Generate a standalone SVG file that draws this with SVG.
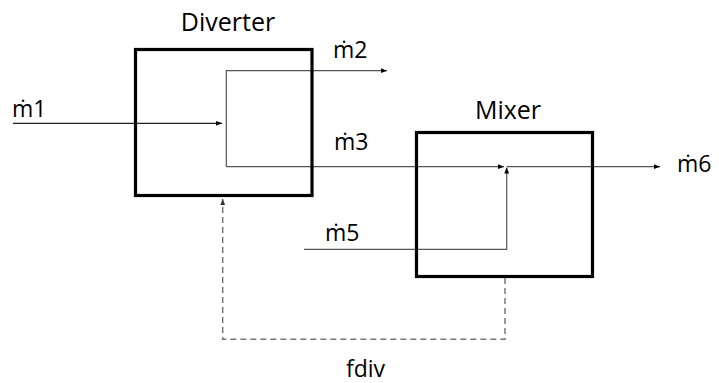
<svg xmlns="http://www.w3.org/2000/svg" width="719" height="383" viewBox="0 0 719 383">
<style>
.box{fill:none;stroke:#000;stroke-width:3.2}
.lbl{font-family:"Open Sans","Noto Sans",sans-serif;font-size:23px;fill:#000}
.ttl{font-family:"Open Sans","Noto Sans",sans-serif;font-size:25px;fill:#000}
.ln{fill:none;stroke:#555;stroke-width:1.2}
.dash{fill:none;stroke:#777;stroke-width:1.5;stroke-dasharray:6 4}
</style>
<defs>
<marker id="ah" viewBox="0 0 10 10" refX="10" refY="5" markerWidth="6" markerHeight="6" markerUnits="userSpaceOnUse" orient="auto"><path d="M0,1 L10,5 L0,9 z" fill="#000"/></marker>
<marker id="ahg" viewBox="0 0 10 10" refX="10" refY="5" markerWidth="6" markerHeight="6" markerUnits="userSpaceOnUse" orient="auto"><path d="M0,1 L10,5 L0,9 z" fill="#333"/></marker>
</defs>
<g id="connectors">
<path class="ln" style="stroke:#222" d="M13,123.3 H222" marker-end="url(#ah)"/>
<path class="ln" d="M226.3,166.7 V70.7 H387" marker-end="url(#ah)"/>
<path class="ln" d="M226.3,166.7 H504" marker-end="url(#ah)"/>
<path class="ln" d="M304,249.3 H506.7 V167.5" marker-end="url(#ah)"/>
<path class="ln" d="M506.7,166.7 H660" marker-end="url(#ah)"/>
<path class="dash" d="M505,278 V339.3 H222.7 V199" marker-end="url(#ahg)"/>
</g>
<g id="diverter">
<rect class="box" x="135.5" y="49.5" width="176.5" height="146"/>
<text class="ttl" x="228" y="31" text-anchor="middle">Diverter</text>
</g>
<g id="mixer">
<rect class="box" x="416.5" y="132.5" width="176" height="144"/>
<text class="ttl" x="508" y="119" text-anchor="middle">Mixer</text>
</g>
<g id="labels">
<text class="lbl" x="12" y="117">ṁ1</text>
<text class="lbl" x="333" y="58">ṁ2</text>
<text class="lbl" x="334" y="150">ṁ3</text>
<text class="lbl" x="325" y="241">ṁ5</text>
<text class="lbl" x="677" y="172">ṁ6</text>
<text class="lbl" x="346" y="377">fdiv</text>
</g>
</svg>
